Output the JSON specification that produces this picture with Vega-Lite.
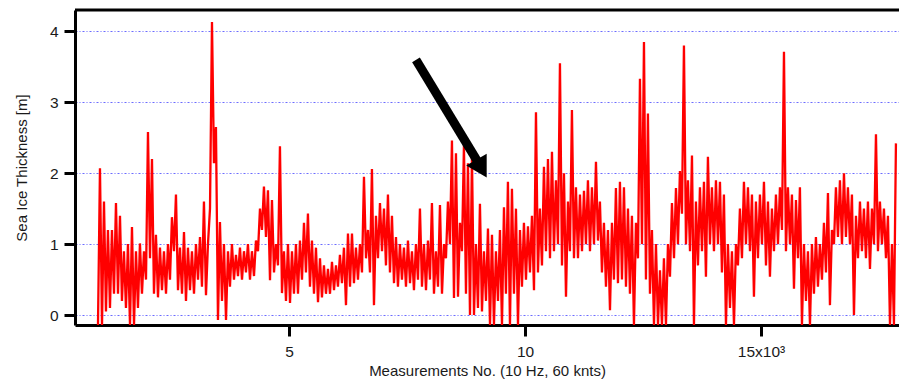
{
"$schema": "https://vega.github.io/schema/vega-lite/v6.json",
"width": 824, "height": 315,
"autosize": {"type": "none"},
"padding": {"left": 75, "top": 10, "right": 0, "bottom": 60},
"background": "white",
"config": {
"view": {"stroke": null},
"font": "Liberation Sans"
},
"datasets": {
"ice": [
{"x":953,"y":-0.14},{"x":995,"y":2.07},{"x":1038,"y":-0.14},{"x":1080,"y":1.6},{"x":1122,"y":0.05},{"x":1164,"y":1.2},{"x":1207,"y":0.1},{"x":1249,"y":1.2},{"x":1292,"y":0.3},{"x":1334,"y":1.58},
{"x":1377,"y":0.3},{"x":1419,"y":1.4},{"x":1461,"y":0.2},{"x":1503,"y":0.9},{"x":1546,"y":0.1},{"x":1588,"y":1.0},{"x":1631,"y":-0.14},{"x":1673,"y":1.24},{"x":1716,"y":-0.14},{"x":1758,"y":0.9},
{"x":1800,"y":0.1},{"x":1842,"y":1.01},{"x":1885,"y":0.3},{"x":1927,"y":0.9},{"x":1970,"y":0.5},{"x":2012,"y":2.58},{"x":2055,"y":0.8},{"x":2097,"y":2.2},{"x":2139,"y":0.3},{"x":2181,"y":1.13},
{"x":2224,"y":0.25},{"x":2266,"y":0.95},{"x":2309,"y":0.35},{"x":2351,"y":0.9},{"x":2394,"y":0.3},{"x":2436,"y":1.0},{"x":2478,"y":0.5},{"x":2520,"y":1.38},{"x":2563,"y":0.9},{"x":2605,"y":1.7},
{"x":2648,"y":0.35},{"x":2690,"y":0.95},{"x":2733,"y":0.3},{"x":2775,"y":1.17},{"x":2817,"y":0.2},{"x":2859,"y":0.95},{"x":2902,"y":0.35},{"x":2944,"y":0.9},{"x":2987,"y":0.3},{"x":3029,"y":1.0},
{"x":3072,"y":0.5},{"x":3114,"y":1.1},{"x":3156,"y":0.4},{"x":3198,"y":1.6},{"x":3241,"y":0.28},{"x":3283,"y":1.0},{"x":3326,"y":1.5},{"x":3368,"y":4.13},{"x":3410,"y":2.14},{"x":3452,"y":2.65},
{"x":3495,"y":-0.07},{"x":3537,"y":1.31},{"x":3580,"y":0.2},{"x":3622,"y":1.0},{"x":3665,"y":-0.07},{"x":3707,"y":0.9},{"x":3749,"y":0.4},{"x":3791,"y":1.0},{"x":3834,"y":0.5},{"x":3876,"y":0.85},
{"x":3919,"y":0.55},{"x":3961,"y":0.95},{"x":4004,"y":0.5},{"x":4046,"y":0.9},{"x":4088,"y":0.6},{"x":4130,"y":1.0},{"x":4173,"y":0.5},{"x":4215,"y":0.9},{"x":4258,"y":0.55},{"x":4300,"y":1.05},
{"x":4343,"y":0.9},{"x":4385,"y":1.5},{"x":4427,"y":1.2},{"x":4469,"y":1.81},{"x":4512,"y":1.1},{"x":4554,"y":1.76},{"x":4597,"y":0.49},{"x":4639,"y":1.62},{"x":4682,"y":0.6},{"x":4724,"y":1.0},
{"x":4766,"y":0.7},{"x":4808,"y":2.38},{"x":4851,"y":0.31},{"x":4893,"y":0.9},{"x":4936,"y":0.2},{"x":4978,"y":1.0},{"x":5021,"y":0.17},{"x":5063,"y":0.9},{"x":5105,"y":0.3},{"x":5147,"y":1.0},
{"x":5190,"y":0.3},{"x":5232,"y":1.05},{"x":5275,"y":0.5},{"x":5317,"y":1.3},{"x":5359,"y":0.6},{"x":5401,"y":1.43},{"x":5444,"y":0.4},{"x":5486,"y":1.05},{"x":5529,"y":0.3},{"x":5571,"y":0.95},
{"x":5614,"y":0.18},{"x":5656,"y":0.8},{"x":5698,"y":0.25},{"x":5740,"y":0.7},{"x":5783,"y":0.3},{"x":5825,"y":0.65},{"x":5868,"y":0.3},{"x":5910,"y":0.75},{"x":5953,"y":0.35},{"x":5995,"y":0.7},
{"x":6037,"y":0.4},{"x":6079,"y":0.85},{"x":6122,"y":0.45},{"x":6164,"y":0.95},{"x":6207,"y":0.14},{"x":6249,"y":1.15},{"x":6292,"y":0.4},{"x":6334,"y":1.15},{"x":6376,"y":0.45},{"x":6418,"y":0.95},
{"x":6461,"y":0.5},{"x":6503,"y":1.0},{"x":6546,"y":0.6},{"x":6588,"y":1.95},{"x":6631,"y":0.8},{"x":6673,"y":1.2},{"x":6715,"y":0.6},{"x":6757,"y":2.06},{"x":6800,"y":0.14},{"x":6842,"y":1.4},
{"x":6885,"y":0.8},{"x":6927,"y":1.58},{"x":6970,"y":0.9},{"x":7012,"y":1.5},{"x":7054,"y":0.7},{"x":7096,"y":1.7},{"x":7139,"y":0.6},{"x":7181,"y":1.4},{"x":7224,"y":0.45},{"x":7266,"y":1.1},
{"x":7308,"y":0.4},{"x":7350,"y":1.0},{"x":7393,"y":0.5},{"x":7435,"y":0.95},{"x":7478,"y":0.4},{"x":7520,"y":1.05},{"x":7563,"y":0.45},{"x":7605,"y":0.9},{"x":7647,"y":0.35},{"x":7689,"y":1.0},
{"x":7732,"y":0.5},{"x":7774,"y":1.5},{"x":7817,"y":0.4},{"x":7859,"y":1.0},{"x":7902,"y":0.35},{"x":7944,"y":1.05},{"x":7986,"y":0.5},{"x":8028,"y":1.58},{"x":8071,"y":0.3},{"x":8113,"y":0.9},
{"x":8156,"y":0.4},{"x":8198,"y":1.55},{"x":8241,"y":0.3},{"x":8283,"y":1.0},{"x":8325,"y":0.8},{"x":8367,"y":1.6},{"x":8410,"y":1.0},{"x":8452,"y":2.46},{"x":8495,"y":0.24},{"x":8537,"y":2.28},
{"x":8580,"y":0.26},{"x":8622,"y":1.3},{"x":8664,"y":0.9},{"x":8706,"y":2.39},{"x":8749,"y":0.3},{"x":8791,"y":2.14},{"x":8834,"y":0.0},{"x":8876,"y":2.23},{"x":8919,"y":0.0},{"x":8961,"y":1.0},
{"x":9003,"y":0.1},{"x":9045,"y":1.57},{"x":9088,"y":0.05},{"x":9130,"y":0.9},{"x":9173,"y":0.2},{"x":9215,"y":1.22},{"x":9258,"y":-0.14},{"x":9300,"y":1.13},{"x":9342,"y":-0.14},{"x":9384,"y":0.9},
{"x":9427,"y":0.2},{"x":9469,"y":1.2},{"x":9512,"y":-0.14},{"x":9554,"y":1.52},{"x":9596,"y":0.3},{"x":9638,"y":1.88},{"x":9681,"y":-0.14},{"x":9723,"y":1.78},{"x":9766,"y":0.3},{"x":9808,"y":1.5},
{"x":9851,"y":-0.14},{"x":9893,"y":1.2},{"x":9935,"y":0.4},{"x":9977,"y":1.3},{"x":10020,"y":0.5},{"x":10062,"y":1.25},{"x":10105,"y":0.6},{"x":10147,"y":1.4},{"x":10190,"y":0.35},{"x":10232,"y":2.86},
{"x":10274,"y":0.6},{"x":10316,"y":1.5},{"x":10359,"y":0.7},{"x":10401,"y":2.09},{"x":10444,"y":0.9},{"x":10486,"y":2.2},{"x":10529,"y":0.8},{"x":10571,"y":2.3},{"x":10613,"y":0.9},{"x":10655,"y":1.9},
{"x":10698,"y":1.0},{"x":10740,"y":3.55},{"x":10783,"y":0.7},{"x":10825,"y":2.0},{"x":10868,"y":0.26},{"x":10910,"y":1.6},{"x":10952,"y":0.9},{"x":10994,"y":2.89},{"x":11037,"y":0.8},{"x":11079,"y":1.8},
{"x":11122,"y":0.8},{"x":11164,"y":1.7},{"x":11207,"y":0.9},{"x":11249,"y":1.75},{"x":11291,"y":1.0},{"x":11333,"y":1.9},{"x":11376,"y":0.9},{"x":11418,"y":1.8},{"x":11461,"y":1.0},{"x":11503,"y":2.16},
{"x":11545,"y":1.05},{"x":11587,"y":1.6},{"x":11630,"y":0.6},{"x":11672,"y":1.3},{"x":11715,"y":0.4},{"x":11757,"y":1.2},{"x":11800,"y":0.07},{"x":11842,"y":1.3},{"x":11884,"y":0.5},{"x":11926,"y":1.79},
{"x":11969,"y":0.45},{"x":12011,"y":1.88},{"x":12054,"y":0.5},{"x":12096,"y":1.8},{"x":12139,"y":0.4},{"x":12181,"y":1.5},{"x":12223,"y":0.3},{"x":12265,"y":1.4},{"x":12308,"y":-0.14},{"x":12350,"y":1.3},
{"x":12393,"y":0.8},{"x":12435,"y":3.33},{"x":12478,"y":1.0},{"x":12520,"y":3.85},{"x":12562,"y":0.5},{"x":12604,"y":2.84},{"x":12647,"y":0.3},{"x":12689,"y":1.2},{"x":12732,"y":-0.14},{"x":12774,"y":1.0},
{"x":12817,"y":-0.14},{"x":12859,"y":0.63},{"x":12901,"y":-0.14},{"x":12943,"y":0.8},{"x":12986,"y":-0.14},{"x":13028,"y":1.0},{"x":13071,"y":0.54},{"x":13113,"y":1.58},{"x":13156,"y":0.8},{"x":13198,"y":1.79},
{"x":13240,"y":1.0},{"x":13282,"y":2.03},{"x":13325,"y":1.43},{"x":13367,"y":3.8},{"x":13410,"y":1.0},{"x":13452,"y":1.9},{"x":13495,"y":0.9},{"x":13537,"y":2.25},{"x":13579,"y":-0.14},{"x":13621,"y":1.6},
{"x":13664,"y":0.7},{"x":13706,"y":1.8},{"x":13749,"y":0.9},{"x":13791,"y":1.88},{"x":13833,"y":0.54},{"x":13875,"y":2.23},{"x":13918,"y":1.0},{"x":13960,"y":1.8},{"x":14003,"y":0.9},{"x":14045,"y":1.9},
{"x":14088,"y":1.0},{"x":14130,"y":1.88},{"x":14172,"y":0.6},{"x":14214,"y":1.7},{"x":14257,"y":-0.14},{"x":14299,"y":1.0},{"x":14342,"y":0.1},{"x":14384,"y":0.9},{"x":14427,"y":-0.14},{"x":14469,"y":1.0},
{"x":14511,"y":0.7},{"x":14553,"y":1.5},{"x":14596,"y":0.8},{"x":14638,"y":1.88},{"x":14681,"y":1.0},{"x":14723,"y":1.8},{"x":14766,"y":0.9},{"x":14808,"y":1.7},{"x":14850,"y":0.26},{"x":14892,"y":1.6},
{"x":14935,"y":0.8},{"x":14977,"y":1.7},{"x":15020,"y":1.0},{"x":15062,"y":1.88},{"x":15105,"y":0.7},{"x":15147,"y":1.6},{"x":15189,"y":0.54},{"x":15231,"y":1.5},{"x":15274,"y":0.9},{"x":15316,"y":1.7},
{"x":15359,"y":1.0},{"x":15401,"y":1.8},{"x":15444,"y":1.2},{"x":15486,"y":3.71},{"x":15528,"y":0.9},{"x":15570,"y":1.8},{"x":15613,"y":1.0},{"x":15655,"y":1.7},{"x":15698,"y":0.37},{"x":15740,"y":1.62},
{"x":15782,"y":0.8},{"x":15824,"y":1.8},{"x":15867,"y":-0.14},{"x":15909,"y":1.0},{"x":15952,"y":0.2},{"x":15994,"y":0.9},{"x":16037,"y":-0.14},{"x":16079,"y":1.0},{"x":16121,"y":0.3},{"x":16163,"y":1.1},
{"x":16206,"y":0.4},{"x":16248,"y":1.0},{"x":16291,"y":0.5},{"x":16333,"y":1.3},{"x":16376,"y":0.6},{"x":16418,"y":1.72},{"x":16460,"y":0.14},{"x":16502,"y":1.2},{"x":16545,"y":1.0},{"x":16587,"y":1.8},
{"x":16630,"y":1.1},{"x":16672,"y":1.9},{"x":16715,"y":1.0},{"x":16757,"y":2.0},{"x":16799,"y":1.1},{"x":16841,"y":1.8},{"x":16884,"y":1.0},{"x":16926,"y":1.7},{"x":16969,"y":0.0},{"x":17011,"y":1.4},
{"x":17054,"y":0.8},{"x":17096,"y":1.6},{"x":17138,"y":0.9},{"x":17180,"y":1.5},{"x":17223,"y":0.8},{"x":17265,"y":1.6},{"x":17308,"y":0.65},{"x":17350,"y":1.5},{"x":17393,"y":1.0},{"x":17435,"y":2.55},
{"x":17477,"y":0.9},{"x":17519,"y":1.6},{"x":17562,"y":1.0},{"x":17604,"y":1.5},{"x":17647,"y":0.8},{"x":17689,"y":1.4},{"x":17732,"y":-0.14},{"x":17774,"y":1.0},{"x":17816,"y":-0.14},{"x":17858,"y":2.42}
],
"arrow": [{"x": 7690, "y": 3.596, "x2": 9025, "y2": 2.13}],
"head": [{"x": 9080, "y": 2.065}]
},
"encoding": {
"x": {"field": "x", "type": "quantitative",
"scale": {"domain": [466, 17923], "nice": false, "zero": false},
"axis": {"values": [5000, 10000, 15000],
"labelExpr": "datum.value == 15000 ? '15x10³' : format(datum.value/1000, 'd')",
"title": "Measurements No. (10 Hz, 60 knts)", "grid": false,
"ticks": true, "tickSize": 11, "tickWidth": 3, "tickColor": "black",
"domainColor": "black", "domainWidth": 3,
"labelFontSize": 15.5, "labelColor": "#1a1a1a", "labelPadding": 8,
"titleFontSize": 15, "titleFontWeight": "normal", "titleColor": "#1a1a1a", "titlePadding": 4}},
"y": {"field": "y", "type": "quantitative",
"scale": {"domain": [-0.14, 4.3], "nice": false, "zero": false},
"axis": {"values": [0, 1, 2, 3, 4], "format": "d", "title": "Sea Ice Thickness [m]",
"grid": true, "gridColor": "#3a3aff", "gridDash": [2, 2, 1, 2], "gridWidth": 1, "gridOpacity": 0.75,
"ticks": true, "tickSize": 11, "tickWidth": 3, "tickColor": "black",
"domainColor": "black", "domainWidth": 3,
"labelFontSize": 15.5, "labelColor": "#1a1a1a", "labelPadding": 6,
"titleFontSize": 15, "titleFontWeight": "normal", "titleColor": "#1a1a1a", "titlePadding": 20}}
},
"layer": [
{
"data": {"name": "ice"},
"mark": {"type": "line", "color": "#ff0000", "strokeWidth": 2.3, "clip": true}
},
{
"data": {"values": [{"top": 4.3}]},
"mark": {"type": "rule", "color": "black", "strokeWidth": 3},
"encoding": {"x": null, "y": {"field": "top", "type": "quantitative"}}
},
{
"data": {"name": "arrow"},
"mark": {"type": "rule", "color": "black", "strokeWidth": 9, "strokeCap": "butt"},
"encoding": {"x2": {"field": "x2"}, "y2": {"field": "y2"}}
},
{
"data": {"name": "head"},
"mark": {"type": "point", "shape": "triangle-up", "filled": true, "color": "black", "opacity": 1, "size": 560, "angle": 150}
}
]
}
